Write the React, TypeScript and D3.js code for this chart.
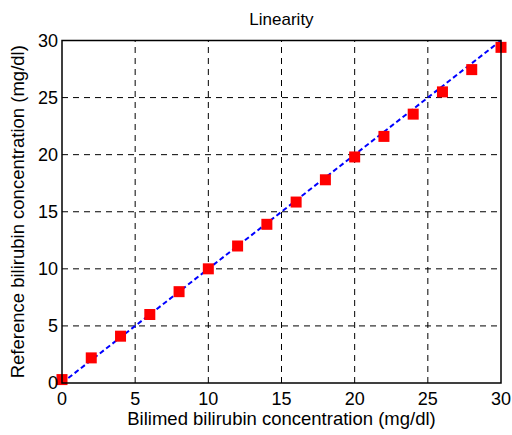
import * as d3 from 'd3';

// Bilimed values (x) and reference values (y)
const bilimed = [0, 2, 4, 6, 8, 10, 12, 14, 16, 18, 20, 22, 24, 26, 28, 30];
const reference = [0.3, 2.2, 4.1, 6.0, 8.0, 10.0, 12.0, 13.9, 15.85, 17.8, 19.8, 21.6, 23.55, 25.5, 27.45, 29.4];
const fitLine = [0, 30];
const xTicks = [0, 5, 10, 15, 20, 25, 30];
const yTicks = [0, 5, 10, 15, 20, 25, 30];

const W = 512;
const H = 435;
const margin = { top: 40.5, right: 11, bottom: 52, left: 62 };
const FONT = 'Liberation Sans, Arial, Helvetica, sans-serif';

export default function App() {
  const x = d3.scaleLinear().domain([0, 30]).range([margin.left, W - margin.right]);
  const y = d3.scaleLinear().domain([0, 30]).range([H - margin.bottom, margin.top]);
  const [x0, x1] = x.range();
  const [y0, y1] = y.range();

  const line = d3.line<number>().x(d => x(d)).y(d => y(d));
  const pts = bilimed.map((b, i) => ({ b, r: reference[i] }));
  const sq = 11;

  return (
    <svg width={W} height={H} style={{ position: 'absolute', left: 0, top: 0, background: '#fff' }}>
      {/* grid */}
      {xTicks.filter(t => t > 0 && t < 30).map(t => (
        <line key={'gx' + t} x1={x(t)} x2={x(t)} y1={y0} y2={y1} stroke="#000" strokeWidth={1} strokeDasharray="6,5" />
      ))}
      {yTicks.filter(t => t > 0 && t < 30).map(t => (
        <line key={'gy' + t} x1={x0} x2={x1} y1={y(t)} y2={y(t)} stroke="#000" strokeWidth={1} strokeDasharray="6,5" />
      ))}

      {/* fit line */}
      <path d={line(fitLine) || ''} fill="none" stroke="#0000ff" strokeWidth={2} strokeDasharray="5,3" />

      {/* markers */}
      {pts.map(p => (
        <rect key={p.b} x={x(p.b) - sq / 2} y={y(p.r) - sq / 2} width={sq} height={sq} fill="#ff0000" />
      ))}

      {/* frame */}
      <rect x={x0} y={y1} width={x1 - x0} height={y0 - y1} fill="none" stroke="#000" strokeWidth={1.5} />

      {/* tick labels */}
      {xTicks.map(t => (
        <text key={'tx' + t} x={x(t)} y={y0 + 22} textAnchor="middle" fontFamily={FONT} fontSize={18} fill="#000">{t}</text>
      ))}
      {yTicks.map(t => (
        <text key={'ty' + t} x={x0 - 4} y={y(t) + 6} textAnchor="end" fontFamily={FONT} fontSize={18} fill="#000">{t}</text>
      ))}

      {/* title and axis labels */}
      <text x={(x0 + x1) / 2} y={25} textAnchor="middle" fontFamily={FONT} fontSize={17} fill="#000">Linearity</text>
      <text x={(x0 + x1) / 2} y={425} textAnchor="middle" fontFamily={FONT} fontSize={18.5} fill="#000">Bilimed bilirubin concentration (mg/dl)</text>
      <text transform={`translate(24,${(y0 + y1) / 2}) rotate(-90)`} textAnchor="middle" fontFamily={FONT} fontSize={18.5} fill="#000">Reference bilirubin concentration (mg/dl)</text>
    </svg>
  );
}
